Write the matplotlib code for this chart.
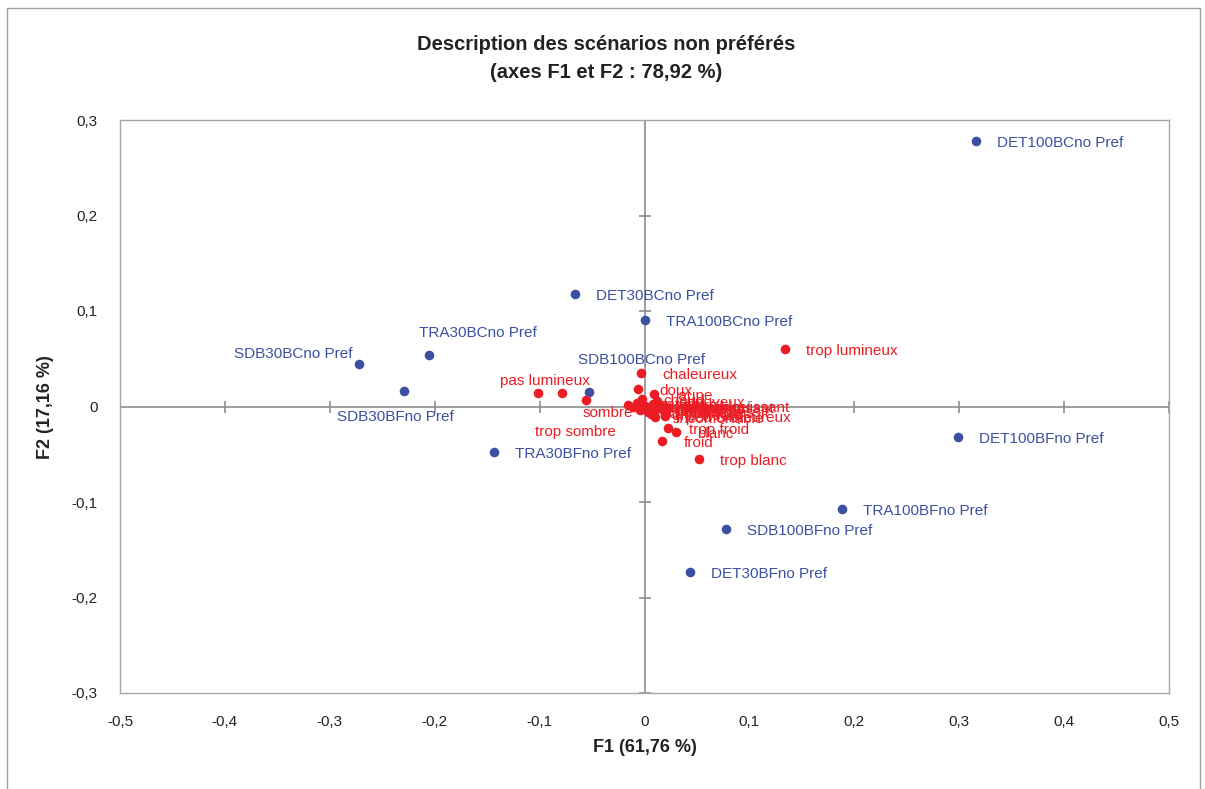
import numpy as np
import matplotlib
matplotlib.use('Agg')
import matplotlib.pyplot as plt
from matplotlib.patches import Rectangle

plt.rcParams['font.family'] = ['Liberation Sans', 'DejaVu Sans']

# scenarios (blue points)
scen_names = ['DET100BCno Pref', 'DET30BCno Pref', 'TRA100BCno Pref', 'SDB30BCno Pref',
              'TRA30BCno Pref', 'SDB30BFno Pref', 'SDB100BCno Pref', 'TRA30BFno Pref',
              'DET100BFno Pref', 'TRA100BFno Pref', 'SDB100BFno Pref', 'DET30BFno Pref']
scen_f1 = [0.316, -0.066, 0.000, -0.272, -0.205, -0.229, -0.053, -0.143,
           0.299, 0.188, 0.078, 0.043]
scen_f2 = [0.278, 0.118, 0.091, 0.045, 0.054, 0.016, 0.015, -0.048,
           -0.032, -0.107, -0.128, -0.173]

# descriptors (red points)
desc_names = ['trop lumineux', 'chaleureux', 'pas lumineux', '', 'sombre', 'doux', 'jaune',
              'trop froid', 'blanc', 'froid', 'trop blanc',
              'trop sombre', 'agréable', 'naturel', 'reposant', 'lumineux', 'confortable',
              'trop éblouissant', 'peu chaleureux', 'neutre', 'terne', 'ambiance',
              'trop agressif', 'éclatant', 'ennuyeux', 'pas reposant', 'gris bleuté',
              'inconfortable', 'chaud']
desc_f1 = [0.134, -0.003, -0.102, -0.079, -0.056, -0.006, 0.009,
           0.022, 0.030, 0.017, 0.052,
           -0.016, -0.011, -0.007, -0.004, 0.000, 0.003,
           0.016, 0.020, 0.008, 0.011, 0.015, 0.019, 0.022, 0.012, 0.020, 0.006,
           0.010, -0.002]
desc_f2 = [0.060, 0.035, 0.014, 0.014, 0.007, 0.018, 0.013,
           -0.022, -0.027, -0.036, -0.055,
           0.002, -0.001, 0.004, -0.004, 0.001, -0.006,
           0.001, -0.010, 0.003, -0.003, 0.000, -0.005, -0.002, 0.006, -0.001, -0.008,
           -0.011, 0.008]

x_ticks = np.round(np.arange(-0.5, 0.51, 0.1), 1)
y_ticks = np.round(np.arange(-0.3, 0.31, 0.1), 1)

blue = '#3C50A2'
red = '#EC1C24'

# label offsets in pixels (left edge of text), default is to the right of the point
default_off = (21, -2)
label_off = {
    'SDB30BCno Pref': (-125, 10),
    'TRA30BCno Pref': (-10, 22),
    'SDB30BFno Pref': (-67, -26),
    'SDB100BCno Pref': (-11, 32),
    'pas lumineux': (-38, 12),
    'sombre': (-3, -13),
    'trop sombre': (-93, -27),
}


def fmt(v):
    if abs(v) < 1e-9:
        return '0'
    return ('%.1f' % v).replace('.', ',')


fig = plt.figure(figsize=(12.05, 7.89), dpi=100)
ax = fig.add_axes([120 / 1205, 96 / 789, 1049 / 1205, 573 / 789])

# outer chart border
fig.patches.append(Rectangle((7 / 1205, -0.1), 1193 / 1205, 1.1 - 8 / 789,
                             transform=fig.transFigure, fill=False,
                             edgecolor='#A0A0A0', lw=1.0))

ax.set_xlim(-0.5, 0.5)
ax.set_ylim(-0.3, 0.3)
ax.set_xticks(x_ticks)
ax.set_yticks(y_ticks)
ax.set_xticklabels([fmt(v) for v in x_ticks])
ax.set_yticklabels([fmt(v) for v in y_ticks])
ax.tick_params(length=0, labelsize=11, colors='#222222', pad=16)
for s in ax.spines.values():
    s.set_color('#A6A6A6')
    s.set_linewidth(1.0)

# zero axes with cross ticks
ax.axhline(0, color='#8C8C8C', lw=1.2, zorder=1)
ax.axvline(0, color='#8C8C8C', lw=1.2, zorder=1)
ax.plot(x_ticks, np.zeros_like(x_ticks), ls='none', marker='|', ms=9,
        mew=1.2, color='#8C8C8C', zorder=1)
ax.plot(np.zeros_like(y_ticks), y_ticks, ls='none', marker='_', ms=9,
        mew=1.2, color='#8C8C8C', zorder=1)

ax.scatter(scen_f1, scen_f2, s=48, color=blue, zorder=3, linewidths=0)
ax.scatter(desc_f1, desc_f2, s=48, color=red, zorder=3, linewidths=0)

for name, x, y in zip(scen_names, scen_f1, scen_f2):
    ax.annotate(name, (x, y), xytext=label_off.get(name, default_off),
                textcoords='offset pixels', ha='left', va='center',
                fontsize=11, color=blue, zorder=4)
for name, x, y in zip(desc_names, desc_f1, desc_f2):
    if not name:
        continue
    ax.annotate(name, (x, y), xytext=label_off.get(name, default_off),
                textcoords='offset pixels', ha='left', va='center',
                fontsize=11, color=red, zorder=4)

fig.text(606 / 1205, 1 - 45 / 789, 'Description des scénarios non préférés',
         ha='center', va='center', fontsize=14.5, fontweight='bold', color='#222222')
fig.text(606 / 1205, 1 - 73 / 789, '(axes F1 et F2 : 78,92 %)',
         ha='center', va='center', fontsize=14.5, fontweight='bold', color='#222222')
fig.text(645 / 1205, 1 - 748 / 789, 'F1 (61,76 %)', ha='center', va='center',
         fontsize=13, fontweight='bold', color='#222222')
fig.text(46 / 1205, 1 - 407 / 789, 'F2 (17,16 %)', ha='center', va='center',
         rotation=90, fontsize=13, fontweight='bold', color='#222222')

fig.savefig('out.png', dpi=100)
